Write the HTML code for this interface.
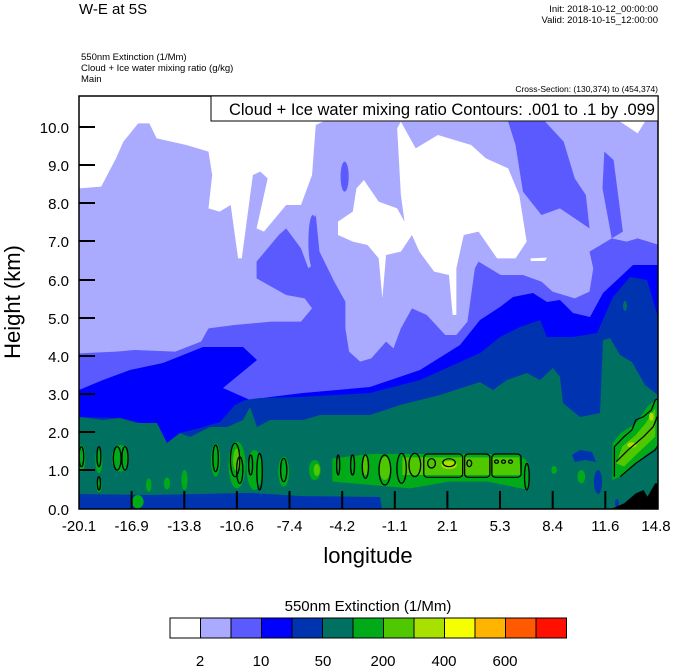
<!DOCTYPE html>
<html><head><meta charset="utf-8"><style>
body{margin:0;background:#fff;}
svg{display:block;font-family:"Liberation Sans",sans-serif;}
</style></head><body>
<svg width="674" height="667" viewBox="0 0 674 667" xmlns="http://www.w3.org/2000/svg">
<defs><clipPath id="pc"><rect x="79" y="96" width="579" height="413"/></clipPath></defs>
<g clip-path="url(#pc)">
<rect x="79" y="96" width="579" height="413" fill="#aaaaff"/>
<g transform="translate(79,95) scale(0.36996,0.33333)">
 <rect x="0" y="0" width="1568" height="80" fill="#fff"/>
 <polygon fill="#fff" points="0,0 0,280 60,275 100,190 120,140 160,85 190,85 210,130 290,150 350,170 360,240 350,340 380,350 410,330 430,490 440,490 470,240 490,230 510,250 480,400 500,410 560,330 600,330 630,240 640,90 660,80 660,0"/>
 <polygon fill="#fff" points="870,80 910,160 970,120 1060,150 1100,190 1160,220 1190,300 1210,440 1180,490 1130,490 1080,410 1040,420 1020,520 1020,660 1010,660 1000,540 960,530 920,470 900,420 870,470 830,480 820,610 810,490 780,450 740,440 700,420 700,380 740,350 750,280 770,255 810,320 860,340 880,380 870,300 860,100"/>
 <polygon fill="#fff" points="1460,78 1490,100 1510,115 1530,80"/>
 <polygon fill="#fff" points="1220,490 1265,488 1260,498 1222,498"/>
 <polygon fill="#5a5aff" points="0,775 100,770 150,765 260,770 330,740 350,700 420,690 520,680 600,680 630,640 610,610 560,600 480,550 480,500 540,420 560,400 600,460 620,520 630,510 630,380 640,360 650,470 690,560 720,620 720,700 730,770 760,800 790,790 830,740 850,760 870,700 900,640 940,660 990,720 1020,720 1050,680 1070,520 1080,500 1140,540 1200,540 1250,560 1280,590 1340,610 1380,590 1390,520 1380,470 1440,430 1480,440 1510,430 1568,450 1568,1300 0,1300"/>
 <polygon fill="#5a5aff" points="1160,80 1260,80 1310,140 1340,250 1370,300 1380,400 1300,340 1250,360 1200,290 1180,150"/>
 <polygon fill="#5a5aff" points="1420,170 1445,195 1470,410 1440,430 1415,280"/>
 <ellipse fill="#5a5aff" cx="718" cy="245" rx="11" ry="45"/>
 <ellipse fill="#5a5aff" cx="632" cy="440" rx="12" ry="80"/>
</g>
<!-- blue -->
<polygon fill="#0000ff" points="79,390 103,380 130,370 163,363 203,347 243,347 257,360 223,388 250,400 270,397 303,393 337,390 370,387 420,370 460,345 480,320 500,307 513,297 533,293 547,302 560,300 573,313 590,317 603,293 617,280 633,265 658,265 658,509 79,509"/>
<!-- dark blue -->
<polygon fill="#0033b0" points="79,417 120,418 150,425 167,447 180,433 200,428 220,422 235,405 245,400 260,398 300,397 370,393 420,380 460,362 480,353 500,337 520,327 540,320 547,337 573,337 597,333 613,297 630,277 647,280 658,317 658,509 79,509"/>
<!-- teal -->
<polygon fill="#007060" points="79,417 103,420 120,418 137,423 157,423 167,443 180,433 190,437 210,427 227,427 243,420 250,407 257,427 270,420 303,420 320,415 370,415 400,405 440,395 480,382 493,390 507,380 527,373 540,380 553,368 560,377 563,403 580,417 600,413 603,340 610,338 620,355 632,362 645,385 658,395 658,509 79,509"/>
<ellipse fill="#007060" cx="625" cy="306" rx="2" ry="5"/>
<ellipse fill="#007060" cx="103" cy="438" rx="4" ry="5"/>
<ellipse fill="#007060" cx="148" cy="437" rx="4" ry="6"/>
<!-- bottom dark blue strip & patches -->
<polygon fill="#0033b0" points="79,494 150,495 250,493 300,496 380,497 382,509 79,509"/>
<polygon fill="#0033b0" points="572,455 580,450 592,452 596,462 585,460 575,462"/>
<ellipse fill="#0033b0" cx="598" cy="482" rx="4" ry="12"/>
<ellipse fill="#0033b0" cx="617" cy="503" rx="2" ry="4"/>
<g transform="translate(60,380) scale(0.38905,0.33333)">
 <g fill="#00aa18">
 <polygon points="700,235 800,222 1180,222 1205,250 1205,330 1100,305 1000,305 900,325 800,315 700,305"/>
 <ellipse cx="55" cy="235" rx="10" ry="40"/>
 <ellipse cx="100" cy="240" rx="9" ry="40"/>
 <ellipse cx="100" cy="315" rx="7" ry="22"/>
 <ellipse cx="155" cy="235" rx="22" ry="40"/>
 <ellipse cx="400" cy="240" rx="12" ry="50"/>
 <ellipse cx="455" cy="255" rx="22" ry="70"/>
 <ellipse cx="500" cy="270" rx="20" ry="60"/>
 <ellipse cx="575" cy="275" rx="14" ry="45"/>
 <ellipse cx="655" cy="270" rx="15" ry="30"/>
 <ellipse cx="228" cy="315" rx="7" ry="20"/>
 <ellipse cx="275" cy="310" rx="8" ry="18"/>
 <ellipse cx="320" cy="300" rx="8" ry="30"/>
 <ellipse cx="200" cy="365" rx="15" ry="20"/>
 <ellipse cx="1340" cy="290" rx="10" ry="20"/>
 <ellipse cx="1270" cy="270" rx="7" ry="12"/>
 <polygon points="1420,300 1420,190 1440,160 1480,130 1510,80 1535,55 1535,200 1500,230 1450,285"/>
 </g>
 <g fill="#50c800">
 <polygon points="880,232 1180,232 1185,285 880,285"/>
 <ellipse cx="835" cy="265" rx="14" ry="35"/>
 <ellipse cx="785" cy="255" rx="8" ry="30"/>
 <ellipse cx="455" cy="240" rx="10" ry="35"/>
 <ellipse cx="660" cy="270" rx="8" ry="18"/>
 <polygon points="1430,250 1445,200 1480,165 1505,130 1530,85 1530,170 1480,225 1450,260"/>
 </g>
 <g fill="#a8e000">
 <ellipse cx="1000" cy="255" rx="20" ry="12"/>
 <ellipse cx="1470" cy="195" rx="12" ry="8"/>
 <ellipse cx="1520" cy="110" rx="6" ry="12"/>
 </g>
 <g fill="none" stroke="#000" stroke-width="3.4">
 <ellipse cx="55" cy="230" rx="6" ry="30"/><ellipse cx="100" cy="230" rx="5" ry="30"/><ellipse cx="100" cy="310" rx="4" ry="20"/>
 <ellipse cx="147" cy="235" rx="10" ry="35"/><ellipse cx="167" cy="235" rx="8" ry="35"/><ellipse cx="400" cy="235" rx="7" ry="40"/>
 <ellipse cx="450" cy="240" rx="12" ry="50"/><ellipse cx="462" cy="270" rx="8" ry="40"/><ellipse cx="490" cy="255" rx="5" ry="30"/>
 <ellipse cx="513" cy="275" rx="7" ry="55"/><ellipse cx="575" cy="270" rx="8" ry="35"/><ellipse cx="715" cy="255" rx="4" ry="30"/>
 <ellipse cx="752" cy="255" rx="5" ry="30"/><ellipse cx="785" cy="260" rx="8" ry="35"/><ellipse cx="835" cy="270" rx="15" ry="45"/>
 <ellipse cx="878" cy="265" rx="12" ry="45"/><ellipse cx="912" cy="255" rx="15" ry="35"/><ellipse cx="1200" cy="290" rx="6" ry="40"/>
 <rect x="935" y="222" width="100" height="70" rx="10"/><rect x="1040" y="222" width="65" height="70" rx="10"/><rect x="1110" y="222" width="75" height="70" rx="10"/>
 <ellipse cx="955" cy="250" rx="10" ry="14"/><ellipse cx="1000" cy="248" rx="16" ry="12"/><ellipse cx="1052" cy="250" rx="6" ry="10"/>
 <circle cx="1122" cy="245" r="5"/><circle cx="1140" cy="245" r="5"/><circle cx="1158" cy="245" r="5"/>
 <polyline points="1425,290 1425,200 1450,170 1470,150 1480,120 1500,110 1520,90 1530,60 1540,55"/>
 <polyline points="1430,245 1460,210 1500,170 1525,140 1535,110"/>
 <polyline points="1440,290 1480,250 1530,210 1540,190"/>
 </g>
 <polygon fill="#000" points="1420,385 1450,370 1480,340 1500,330 1510,350 1520,330 1530,310 1540,310 1540,390 1420,390"/>
</g>
</g>
<rect x="79" y="96" width="579" height="413" fill="none" stroke="#000" stroke-width="1.5"/>
<g stroke="#000" stroke-width="2">
 <line x1="79" y1="127" x2="95" y2="127"/><line x1="79" y1="165" x2="95" y2="165"/><line x1="79" y1="203" x2="95" y2="203"/><line x1="79" y1="241" x2="95" y2="241"/><line x1="79" y1="280" x2="95" y2="280"/><line x1="79" y1="318" x2="95" y2="318"/><line x1="79" y1="356" x2="95" y2="356"/><line x1="79" y1="394" x2="95" y2="394"/><line x1="79" y1="432" x2="95" y2="432"/><line x1="79" y1="470" x2="95" y2="470"/>
 <line x1="131.6" y1="491" x2="131.6" y2="509"/><line x1="184.3" y1="491" x2="184.3" y2="509"/><line x1="236.9" y1="491" x2="236.9" y2="509"/><line x1="289.5" y1="491" x2="289.5" y2="509"/><line x1="342.2" y1="491" x2="342.2" y2="509"/><line x1="394.8" y1="491" x2="394.8" y2="509"/><line x1="447.4" y1="491" x2="447.4" y2="509"/><line x1="500" y1="491" x2="500" y2="509"/><line x1="552.7" y1="491" x2="552.7" y2="509"/><line x1="605.3" y1="491" x2="605.3" y2="509"/>
</g>
<rect x="211" y="96" width="447" height="25" fill="#fff" stroke="#000" stroke-width="1"/>
<text x="655" y="115" font-size="16.5" text-anchor="end">Cloud + Ice water mixing ratio Contours: .001 to .1 by .099</text>
<g font-size="15" text-anchor="end">
 <text x="69" y="133">10.0</text><text x="69" y="171">9.0</text><text x="69" y="209">8.0</text><text x="69" y="247">7.0</text><text x="69" y="286">6.0</text><text x="69" y="324">5.0</text><text x="69" y="362">4.0</text><text x="69" y="400">3.0</text><text x="69" y="438">2.0</text><text x="69" y="476">1.0</text><text x="69" y="515">0.0</text>
</g>
<g font-size="15" text-anchor="middle">
 <text x="79" y="531">-20.1</text><text x="131.6" y="531">-16.9</text><text x="184.3" y="531">-13.8</text><text x="236.9" y="531">-10.6</text><text x="289.5" y="531">-7.4</text><text x="342.2" y="531">-4.2</text><text x="394.8" y="531">-1.1</text><text x="447.4" y="531">2.1</text><text x="500" y="531">5.3</text><text x="552.7" y="531">8.4</text><text x="605.3" y="531">11.6</text><text x="656" y="531">14.8</text>
</g>
<text x="368" y="563" font-size="22" text-anchor="middle">longitude</text>
<text transform="translate(20,302) rotate(-90)" font-size="22" text-anchor="middle">Height (km)</text>
<text x="79" y="14" font-size="15">W-E at 5S</text>
<text x="658" y="12" font-size="9.5" text-anchor="end">Init: 2018-10-12_00:00:00</text>
<text x="658" y="23" font-size="9.5" text-anchor="end">Valid: 2018-10-15_12:00:00</text>
<text x="81" y="60" font-size="9.5">550nm Extinction   (1/Mm)</text>
<text x="81" y="71" font-size="9.5">Cloud + Ice water mixing ratio   (g/kg)</text>
<text x="81" y="82" font-size="9.5">Main</text>
<text x="658" y="92" font-size="8.5" text-anchor="end">Cross-Section: (130,374) to (454,374)</text>
<text x="368" y="611" font-size="15" text-anchor="middle">550nm Extinction  (1/Mm)</text>
<g stroke="#000" stroke-width="1">
 <rect x="170" y="618" width="30.5" height="20" fill="#ffffff"/>
 <rect x="200.5" y="618" width="30.5" height="20" fill="#aaaaff"/>
 <rect x="231" y="618" width="30.5" height="20" fill="#5a5aff"/>
 <rect x="261.5" y="618" width="30.5" height="20" fill="#0000ff"/>
 <rect x="292" y="618" width="30.5" height="20" fill="#0033b0"/>
 <rect x="322.5" y="618" width="30.5" height="20" fill="#007060"/>
 <rect x="353" y="618" width="30.5" height="20" fill="#00aa18"/>
 <rect x="383.5" y="618" width="30.5" height="20" fill="#50c800"/>
 <rect x="414" y="618" width="30.5" height="20" fill="#a8e000"/>
 <rect x="444.5" y="618" width="30.5" height="20" fill="#f5ff00"/>
 <rect x="475" y="618" width="30.5" height="20" fill="#ffb400"/>
 <rect x="505.5" y="618" width="30.5" height="20" fill="#ff5a00"/>
 <rect x="536" y="618" width="30.5" height="20" fill="#ff1000"/>
</g>
<g font-size="15" text-anchor="middle">
 <text x="200" y="666">2</text><text x="261" y="666">10</text><text x="323" y="666">50</text><text x="383" y="666">200</text><text x="444" y="666">400</text><text x="505" y="666">600</text>
</g>
</svg>
</body></html>
